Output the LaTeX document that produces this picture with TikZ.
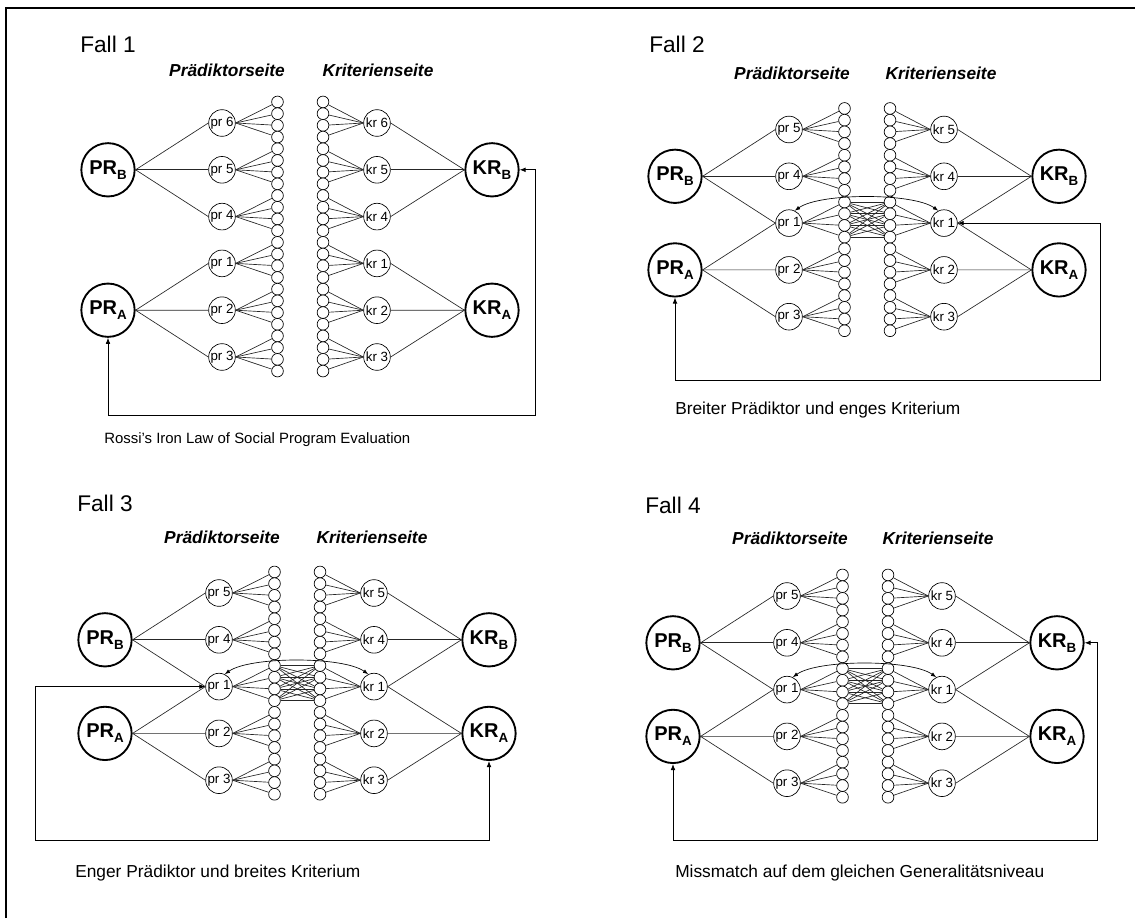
\documentclass[tikz,border=0pt]{standalone}
\usepackage{fontspec}
\setmainfont{Liberation Sans}
\usetikzlibrary{arrows.meta}
\newcommand\subl[1]{\raisebox{-0.45ex}{\fontsize{10}{10}\selectfont #1}}
\tikzset{
  bignode/.style={circle, draw, line width=1.4pt, minimum size=40pt, inner sep=0pt, fill=white,
     font=\fontsize{15}{15}\selectfont\bfseries},
  smallnode/.style={circle, draw, line width=0.5pt, minimum size=20pt, inner sep=0pt, fill=white,
     font=\fontsize{10}{10}\selectfont},
  dotnode/.style={circle, draw, line width=0.5pt, minimum size=8.8pt, inner sep=0pt, fill=white},
  link/.style={line width=0.5pt, draw=black!85},
  tip/.style={{Latex[length=4.5pt,width=3.5pt]}-{Latex[length=4.5pt,width=3.5pt]}},
  fbline/.style={line width=0.6pt, tip},
  arcline/.style={line width=0.5pt, {Latex[length=4pt,width=3pt]}-{Latex[length=4pt,width=3pt]}},
  falltitle/.style={font=\fontsize{17}{17}\selectfont, anchor=west, inner sep=0pt},
  sidetitle/.style={font=\fontsize{13}{13}\selectfont\bfseries\itshape, inner sep=0pt},
  capt/.style={font=\fontsize{13}{13}\selectfont, anchor=west, inner sep=0pt},
  framepath/.style={line width=1.5pt},
}
\newcommand\groups[1]{%
  \foreach \lab [count=\i from 0] in {#1} {
    \pgfmathsetmacro\gy{46.8*\i}
    \node[smallnode] (pr\lab) at (114,\gy+3.5) {pr \lab};
    \node[smallnode] (kr\lab) at (269,\gy+3.5) {kr \lab};
    \foreach \j in {0,1,2,3} {
      \node[dotnode] (L\lab-\j) at (169.5,\gy+\j*11.7-17.55) {};
      \node[dotnode] (R\lab-\j) at (215,\gy+\j*11.7-17.55) {};
      \draw[link] (pr\lab.east) -- (L\lab-\j);
      \draw[link] (kr\lab.west) -- (R\lab-\j);
    }
  }
}
\newcommand\crossing{%
  \foreach \a in {0,1,2,3} {
    \foreach \b in {0,1,2,3} {
      \draw[link] (L1-\a) -- (R1-\b);
    }
  }
  \draw[arcline] (pr1.65) .. controls +(25,-18) and +(-25,-18) .. (kr1.115);
}
\newcommand\bigfour[2]{%
  \node[bignode] (PRB) at (0,#1) {PR\subl{B}};
  \node[bignode] (PRA) at (0,#2) {PR\subl{A}};
  \node[bignode] (KRB) at (384,#1) {KR\subl{B}};
  \node[bignode] (KRA) at (384,#2) {KR\subl{A}};
}
\begin{document}
\begin{tikzpicture}[x=0.75pt,y=-0.75pt]
\useasboundingbox (0,0) rectangle (1135,918);
\draw[framepath] (6,918) -- (6,8) -- (1135,8);

% ---------- Fall 1
\begin{scope}[shift={(108,119.5)}, name prefix=f1-]
  \groups{6,5,4,1,2,3}
  \bigfour{50.3}{190.7}
  \foreach \k in {6,5,4} {
    \draw[link] (PRB.east) -- (pr\k.west);
    \draw[link] (KRB.west) -- (kr\k.east);
  }
  \foreach \k in {1,2,3} {
    \draw[link] (PRA.east) -- (pr\k.west);
    \draw[link] (KRA.west) -- (kr\k.east);
  }
\end{scope}
\coordinate (f1-fb) at (535,415);
\draw[fbline] (f1-PRA.south) |- (f1-fb) |- (f1-KRB.east);
\node[falltitle] (t1) at (80,44) {Fall 1};
\node[sidetitle] (p1) at (227,70) {Prädiktorseite};
\node[sidetitle] (k1) at (378,70) {Kriterienseite};
\node[capt, font=\fontsize{11.2}{11.2}\selectfont] (c1) at (104,440) {Rossi's Iron Law of Social Program Evaluation};

% ---------- Fall 2
\begin{scope}[shift={(675,126)}, name prefix=f2-]
  \groups{5,4,1,2,3}
  \bigfour{50.3}{143.9}
  \foreach \k in {5,4,1} {
    \draw[link] (PRB.east) -- (pr\k.west);
    \draw[link] (KRB.west) -- (kr\k.east);
  }
  \foreach \k in {1,2,3} {
    \draw[link] (PRA.east) -- (pr\k.west);
    \draw[link] (KRA.west) -- (kr\k.east);
  }
  \crossing
\end{scope}
\coordinate (f2-fb) at (1100,380);
\draw[fbline] (f2-kr1.east) -| (f2-fb) -| (f2-PRA.south);
\node[falltitle] (t2) at (649,44) {Fall 2};
\node[sidetitle] (p2) at (792,73) {Prädiktorseite};
\node[sidetitle] (k2) at (941,73) {Kriterienseite};
\node[capt] (c2) at (675,410) {Breiter Prädiktor und enges Kriterium};

% ---------- Fall 3
\begin{scope}[shift={(105,589.5)}, name prefix=f3-]
  \groups{5,4,1,2,3}
  \bigfour{50.3}{143.9}
  \foreach \k in {5,4,1} {
    \draw[link] (PRB.east) -- (pr\k.west);
    \draw[link] (KRB.west) -- (kr\k.east);
  }
  \foreach \k in {1,2,3} {
    \draw[link] (PRA.east) -- (pr\k.west);
    \draw[link] (KRA.west) -- (kr\k.east);
  }
  \crossing
\end{scope}
\coordinate (f3-fb) at (35,840);
\draw[fbline] (f3-pr1.west) -| (f3-fb) -| (f3-KRA.south);
\node[falltitle] (t3) at (77,503) {Fall 3};
\node[sidetitle] (p3) at (222,537) {Prädiktorseite};
\node[sidetitle] (k3) at (372,537) {Kriterienseite};
\node[capt] (c3) at (75,873) {Enger Prädiktor und breites Kriterium};

% ---------- Fall 4
\begin{scope}[shift={(673,592.5)}, name prefix=f4-]
  \groups{5,4,1,2,3}
  \bigfour{50.3}{143.9}
  \foreach \k in {5,4,1} {
    \draw[link] (PRB.east) -- (pr\k.west);
    \draw[link] (KRB.west) -- (kr\k.east);
  }
  \foreach \k in {1,2,3} {
    \draw[link] (PRA.east) -- (pr\k.west);
    \draw[link] (KRA.west) -- (kr\k.east);
  }
  \crossing
\end{scope}
\coordinate (f4-fb) at (1097,840);
\draw[fbline] (f4-PRA.south) |- (f4-fb) |- (f4-KRB.east);
\node[falltitle] (t4) at (645,505) {Fall 4};
\node[sidetitle] (p4) at (790,538) {Prädiktorseite};
\node[sidetitle] (k4) at (938,538) {Kriterienseite};
\node[capt] (c4) at (675,873) {Missmatch auf dem gleichen Generalitätsniveau};
\end{tikzpicture}
\end{document}
